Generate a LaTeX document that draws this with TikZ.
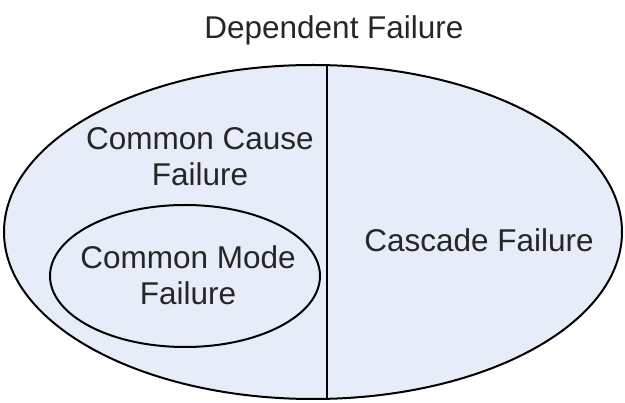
\documentclass[tikz,border=0pt]{standalone}
\usepackage{fontspec}
\setmainfont{Liberation Sans}
\usetikzlibrary{shapes.geometric}
\definecolor{setfill}{HTML}{E6EDF8}
\definecolor{inkgray}{HTML}{262626}
\begin{document}
\begin{tikzpicture}[x=1pt,y=-1pt,
  setline/.style={draw=black,line width=2pt},
  lbl/.style={text=inkgray,font=\fontsize{31.5}{36}\selectfont,align=center,inner sep=0pt}]
\useasboundingbox (0,0) rectangle (625,403);
% outer set: dependent failure
\node[ellipse,setline,fill=setfill,minimum width=618pt,minimum height=334pt,inner sep=0pt] (outer) at (313,232) {};
% split between common cause and cascade failures
\coordinate (splittop) at (327,65.6);
\coordinate (splitbot) at (327,398.4);
\draw[setline] (splittop) -- (splitbot);
% inner set: common mode failure
\node[ellipse,setline,minimum width=270pt,minimum height=142pt,inner sep=0pt] (inner) at (185,276) {};
% labels
\node[lbl] (title) at (334,30) {Dependent Failure};
\node[lbl] (ccf) at (200,157) {Common Cause\\Failure};
\node[lbl] (cmf) at (188,275) {Common Mode\\Failure};
\node[lbl] (casc) at (479,240) {Cascade Failure};
\end{tikzpicture}
\end{document}
